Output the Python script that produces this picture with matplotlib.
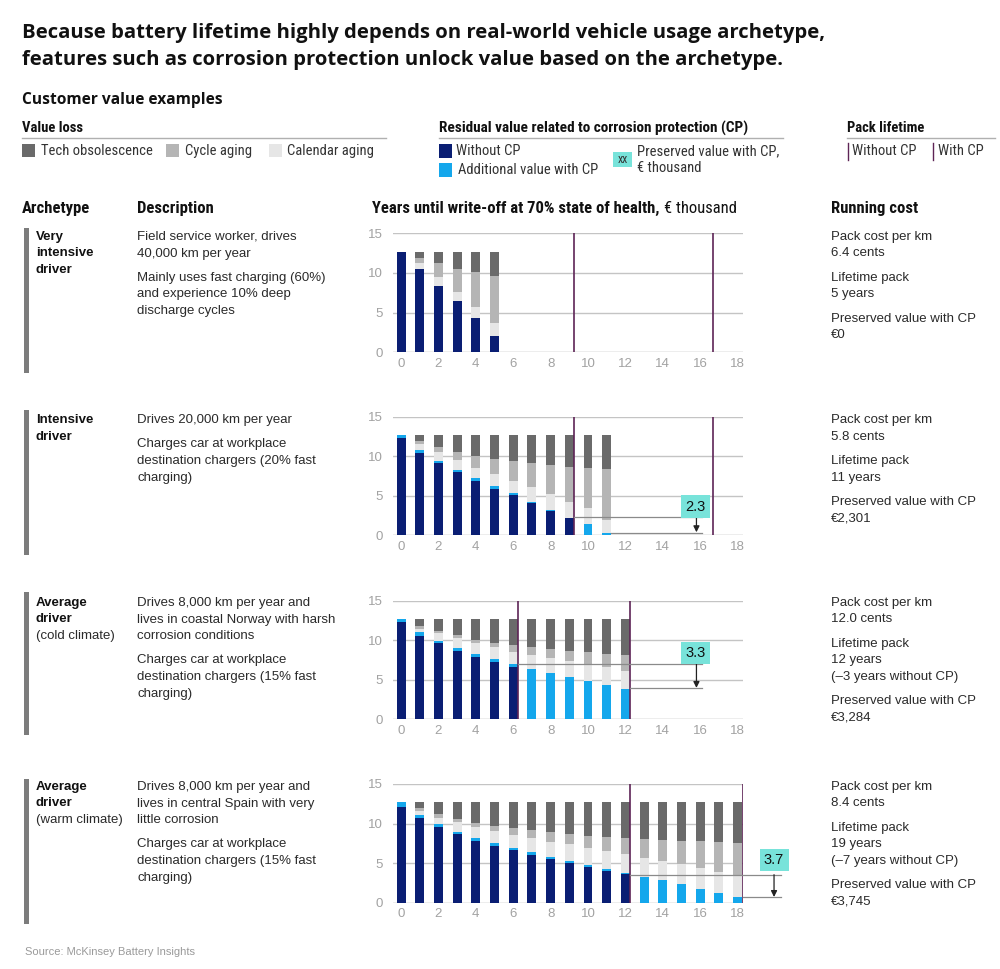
import matplotlib
matplotlib.use("Agg")
import matplotlib.pyplot as plt
from matplotlib.patches import Rectangle
from matplotlib.lines import Line2D
import numpy as np

# ---------------- DATA ----------------
# Panel 1: very intensive driver (years 0-5)
p1_years = list(range(0, 6))
p1_without = [12.7, 10.46, 8.4, 6.47, 4.3, 2.1]
p1_additional = [0, 0, 0, 0, 0, 0]
p1_calendar = [0, 0.74, 1.05, 1.18, 1.37, 1.55]
p1_cycle = [0, 0.7, 1.75, 2.85, 4.41, 6.01]
p1_tech = [0, 0.8, 1.5, 2.2, 2.62, 3.04]
p1_lifelines = [9.27, 16.7]

# Panel 2: intensive driver (years 0-11)
p2_years = list(range(0, 12))
p2_without = [12.25, 10.35, 9.08, 7.94, 6.84, 5.83, 5.07, 4.01, 3.04, 2.11, 0, 0]
p2_additional = [0.45, 0.42, 0.30, 0.30, 0.34, 0.34, 0.21, 0.21, 0.13, 0.09, 1.35, 0.2]
p2_calendar = [0, 0.73, 1.18, 1.26, 1.35, 1.52, 1.56, 1.91, 1.98, 2.02, 2.03, 1.7]
p2_cycle = [0, 0.4, 0.64, 0.98, 1.47, 1.91, 2.54, 2.95, 3.72, 4.44, 5.07, 6.42]
p2_tech = [0, 0.8, 1.5, 2.22, 2.7, 3.1, 3.32, 3.62, 3.83, 4.04, 4.25, 4.38]
p2_lifelines = [9.27, 16.7]

# Panel 3: average driver, cold climate (years 0-12)
p3_years = list(range(0, 13))
p3_without = [12.26, 10.58, 9.6, 8.68, 7.92, 7.29, 6.66, 0, 0, 0, 0, 0, 0]
p3_additional = [0.44, 0.42, 0.34, 0.32, 0.28, 0.29, 0.34, 6.4, 5.86, 5.31, 4.85, 4.34, 3.83]
p3_calendar = [0, 0.42, 0.93, 1.24, 1.4, 1.52, 1.55, 1.73, 1.85, 2.06, 2.15, 2.23, 2.32]
p3_cycle = [0, 0.42, 0.33, 0.38, 0.43, 0.59, 0.85, 0.97, 1.14, 1.27, 1.47, 1.73, 1.98]
p3_tech = [0, 0.86, 1.5, 2.08, 2.67, 3.01, 3.3, 3.6, 3.85, 4.06, 4.23, 4.4, 4.57]
p3_lifelines = [6.27, 12.25]

# Panel 4: average driver, warm climate (years 0-18)
p4_years = list(range(0, 19))
p4_without = [12.14, 10.66, 9.52, 8.64, 7.84, 7.2, 6.62, 6.03, 5.52, 5.06, 4.55, 4.05, 3.58,
              0, 0, 0, 0, 0, 0]
p4_additional = [0.56, 0.42, 0.38, 0.34, 0.34, 0.3, 0.29, 0.33, 0.3, 0.21, 0.21, 0.16, 0.13,
                 3.29, 2.82, 2.32, 1.73, 1.22, 0.67]
p4_calendar = [0, 0.45, 0.85, 1.26, 1.42, 1.56, 1.64, 1.77, 1.89, 2.1, 2.19, 2.32, 2.48,
               2.4, 2.45, 2.53, 2.69, 2.7, 2.83]
p4_cycle = [0, 0.4, 0.42, 0.34, 0.43, 0.63, 0.85, 1.01, 1.18, 1.27, 1.48, 1.73, 1.94,
            2.36, 2.65, 2.95, 3.38, 3.75, 4.04]
p4_tech = [0, 0.77, 1.53, 2.12, 2.67, 3.01, 3.3, 3.56, 3.81, 4.06, 4.27, 4.44, 4.57,
           4.65, 4.78, 4.9, 4.9, 5.03, 5.16]
p4_lifelines = [12.25, 18.27]

# preserved-value annotations: label, upper y, lower y, line starts, arrow x, label pos
annot_labels = [None, "2.3", "3.3", "3.7"]
annot_upper = [None, 2.32, 7.0, 3.54]
annot_lower = [None, 0.3, 3.92, 0.67]
annot_upper_start = [None, 9.27, 6.27, 12.25]
annot_lower_start = [None, 11.25, 12.25, 18.27]
annot_end = [None, 16.08, 16.08, 20.3]
annot_arrow_x = [None, 15.8, 15.8, 19.95]
annot_label_xy = [None, (15.75, 3.57), (15.75, 8.4), (19.95, 5.4)]

x_ticks = list(range(0, 19, 2))
y_ticks = [0, 5, 10, 15]

archetypes = [["Very", "intensive", "driver"],
              ["Intensive", "driver"],
              ["Average", "driver", "(cold climate)"],
              ["Average", "driver", "(warm climate)"]]
descriptions = [
    [["Field service worker, drives", "40,000 km per year"],
     ["Mainly uses fast charging (60%)", "and experience 10% deep", "discharge cycles"]],
    [["Drives 20,000 km per year"],
     ["Charges car at workplace", "destination chargers (20% fast", "charging)"]],
    [["Drives 8,000 km per year and", "lives in coastal Norway with harsh", "corrosion conditions"],
     ["Charges car at workplace", "destination chargers (15% fast", "charging)"]],
    [["Drives 8,000 km per year and", "lives in central Spain with very", "little corrosion"],
     ["Charges car at workplace", "destination chargers (15% fast", "charging)"]],
]
running = [
    [["Pack cost per km", "6.4 cents"], ["Lifetime pack", "5 years"],
     ["Preserved value with CP", "€0"]],
    [["Pack cost per km", "5.8 cents"], ["Lifetime pack", "11 years"],
     ["Preserved value with CP", "€2,301"]],
    [["Pack cost per km", "12.0 cents"], ["Lifetime pack", "12 years", "(–3 years without CP)"],
     ["Preserved value with CP", "€3,284"]],
    [["Pack cost per km", "8.4 cents"], ["Lifetime pack", "19 years", "(–7 years without CP)"],
     ["Preserved value with CP", "€3,745"]],
]

# ---------------- STYLE ----------------
C_NAVY = "#0a1e73"
C_BLUE = "#14a7ec"
C_TECH = "#6a6a6a"
C_CYCLE = "#b5b5b5"
C_CAL = "#e6e6e6"
C_TEAL = "#78e3da"
C_LIFE = "#5e2456"
C_TEXT = "#2a2a2a"

COND = ["Liberation Sans Narrow", "Roboto Condensed", "DejaVu Sans"]
HEAD = ["Open Sans", "DejaVu Sans"]
BODY = ["Liberation Sans", "DejaVu Sans"]
plt.rcParams["font.family"] = BODY

W, H = 1000, 969
fig = plt.figure(figsize=(10, 9.69), dpi=100)


def fx(x):
    return x / W


def fy(y):
    return 1 - y / H


def T(x, y, s, size=9.5, weight="normal", family=BODY, color=C_TEXT, **kw):
    kw.setdefault("va", "center")
    kw.setdefault("ha", "left")
    return fig.text(fx(x), fy(y), s, fontsize=size, fontweight=weight,
                    family=family, color=color, **kw)


def R(x, y, w, h, color):
    fig.patches.append(Rectangle((fx(x), fy(y + h)), w / W, h / H, transform=fig.transFigure,
                                 facecolor=color, edgecolor="none"))


def L(x0, y0, x1, y1, color="#b0b0b0", lw=1.0):
    fig.lines.append(Line2D([fx(x0), fx(x1)], [fy(y0), fy(y1)], transform=fig.transFigure,
                            color=color, lw=lw))


# ---------------- TITLE ----------------
T(22, 38, "Because battery lifetime highly depends on real-world vehicle usage archetype,",
  size=14.6, weight="bold", family=HEAD, color="#111111", va="baseline")
T(22, 65, "features such as corrosion protection unlock value based on the archetype.",
  size=14.6, weight="bold", family=HEAD, color="#111111", va="baseline")
T(22, 104, "Customer value examples", size=11.2, weight="bold", family=HEAD, color="#111111",
  va="baseline")

# ---------------- LEGENDS ----------------
T(22, 128, "Value loss", size=10.5, weight="bold", family=COND, color="#111111")
L(22, 138, 386, 138)
for sx, tx, col, lab in [(22, 41, C_TECH, "Tech obsolescence"),
                         (166, 185, C_CYCLE, "Cycle aging"),
                         (269, 287, C_CAL, "Calendar aging")]:
    R(sx, 144, 13, 13, col)
    T(tx, 151, lab, size=10.5, family=COND, color="#333333")

T(439, 128, "Residual value related to corrosion protection (CP)", size=11, weight="bold",
  family=COND, color="#111111")
L(439, 138, 783, 138)
R(439, 144, 13, 14, C_NAVY)
T(456, 151, "Without CP", size=10.5, family=COND, color="#333333")
R(439, 163, 13, 14, C_BLUE)
T(458, 170, "Additional value with CP", size=10.5, family=COND, color="#333333")
R(613, 152, 19, 15, C_TEAL)
T(622.5, 159.5, "xx", size=8.5, family=COND, color="#333333", ha="center")
T(637, 151, "Preserved value with CP,", size=10.5, family=COND, color="#333333")
T(637, 168, "€ thousand", size=10.5, family=COND, color="#333333")

T(847, 128, "Pack lifetime", size=10.5, weight="bold", family=COND, color="#111111")
L(847, 138, 995, 138)
L(848, 143, 848, 160, color=C_LIFE, lw=1.0)
T(852, 151, "Without CP", size=10.5, family=COND, color="#333333")
L(933, 143, 933, 160, color=C_LIFE, lw=1.0)
T(938, 151, "With CP", size=10.5, family=COND, color="#333333")

# ---------------- COLUMN HEADERS ----------------
HB = 213  # header baseline
T(22, HB, "Archetype", size=12, weight="bold", family=COND, color="#111111", va="baseline")
T(137, HB, "Description", size=12, weight="bold", family=COND, color="#111111", va="baseline")
hdr = T(372, HB, "Years until write-off at 70% state of health,", size=12, weight="bold",
        family=COND, color="#111111", va="baseline")
fig.canvas.draw()
bb = hdr.get_window_extent(renderer=fig.canvas.get_renderer())
T(bb.x1 + 4, HB, "€ thousand", size=12, family=COND, color="#111111", va="baseline")
T(831, HB, "Running cost", size=12, weight="bold", family=COND, color="#111111", va="baseline")

# ---------------- PANELS ----------------
panels = [
    (p1_years, p1_without, p1_additional, p1_calendar, p1_cycle, p1_tech, p1_lifelines),
    (p2_years, p2_without, p2_additional, p2_calendar, p2_cycle, p2_tech, p2_lifelines),
    (p3_years, p3_without, p3_additional, p3_calendar, p3_cycle, p3_tech, p3_lifelines),
    (p4_years, p4_without, p4_additional, p4_calendar, p4_cycle, p4_tech, p4_lifelines),
]
axis_zero_y = [352.3, 535.0, 719.3, 902.7]
axis_top_y = [233.3, 416.7, 600.7, 784.0]
bar_top = [228, 410, 592, 779]
bar_bot = [373, 555, 735, 924]
text_top = [237, 420, 603, 787]
LS = 16.5  # line spacing px
PG = 8     # paragraph gap px

for i, (yrs, wo, add, cal, cyc, tech, life) in enumerate(panels):
    y0, y15 = axis_zero_y[i], axis_top_y[i]
    ax = fig.add_axes([fx(393), fy(y0), 350 / W, (y0 - y15) / H])
    ax.set_xlim(-0.43, 18.29)
    ax.set_ylim(0, 15)
    for s in ax.spines.values():
        s.set_visible(False)
    for g in [5, 10, 15]:
        ax.axhline(g, color="#c4c4c4", lw=1.0, zorder=0)
    ax.axhline(0, color="#a8a8a8", lw=1.0, zorder=0)
    ax.set_xticks(x_ticks)
    ax.set_yticks(y_ticks)
    ax.tick_params(length=0, labelsize=9.5, labelcolor="#a2a2a2")
    ax.tick_params(axis="x", pad=4)
    ax.tick_params(axis="y", pad=7)
    ax.patch.set_alpha(0)

    yrs = np.array(yrs)
    bottom = np.zeros(len(yrs))
    for vals, col in [(wo, C_NAVY), (add, C_BLUE), (cal, C_CAL), (cyc, C_CYCLE), (tech, C_TECH)]:
        v = np.array(vals, dtype=float)
        ax.bar(yrs, v, bottom=bottom, width=0.48, color=col, zorder=2, linewidth=0)
        bottom += v

    ax.vlines(life, 0, 15, color=C_LIFE, lw=1.2, zorder=3)

    if annot_labels[i] is not None:
        up, lo = annot_upper[i], annot_lower[i]
        ax.plot([annot_upper_start[i], annot_end[i]], [up, up], color="#8a8a8a", lw=0.9,
                clip_on=False, zorder=4)
        ax.plot([annot_lower_start[i], annot_end[i]], [lo, lo], color="#8a8a8a", lw=0.9,
                clip_on=False, zorder=4)
        ax.annotate("", xy=(annot_arrow_x[i], lo + 0.05), xytext=(annot_arrow_x[i], up),
                    arrowprops=dict(arrowstyle="-|>", color="#222222", lw=0.9,
                                    mutation_scale=9, shrinkA=0, shrinkB=0),
                    annotation_clip=False, zorder=5)
        lx, ly = annot_label_xy[i]
        ax.text(lx, ly, annot_labels[i], ha="center", va="center", fontsize=10.5,
                color="#111111", zorder=6, clip_on=False,
                bbox=dict(boxstyle="square,pad=0.3", fc=C_TEAL, ec="none"))

    # left grey bar
    R(24, bar_top[i], 4.5, bar_bot[i] - bar_top[i], "#7c7c7c")

    # archetype text
    ty = text_top[i]
    for k, line in enumerate(archetypes[i]):
        bold = not line.startswith("(")
        T(36, ty + k * LS, line, size=9.5, weight="bold" if bold else "normal",
          color="#111111" if bold else C_TEXT)

    # description
    yy = ty
    for para in descriptions[i]:
        for line in para:
            T(137, yy, line, size=9.5)
            yy += LS
        yy += PG

    # running cost
    yy = ty
    for para in running[i]:
        for line in para:
            T(831, yy, line, size=9.5)
            yy += LS
        yy += PG

T(25, 952, "Source: McKinsey Battery Insights", size=8, color="#9a9a9a")

fig.savefig("out.png", dpi=100, facecolor="white")
